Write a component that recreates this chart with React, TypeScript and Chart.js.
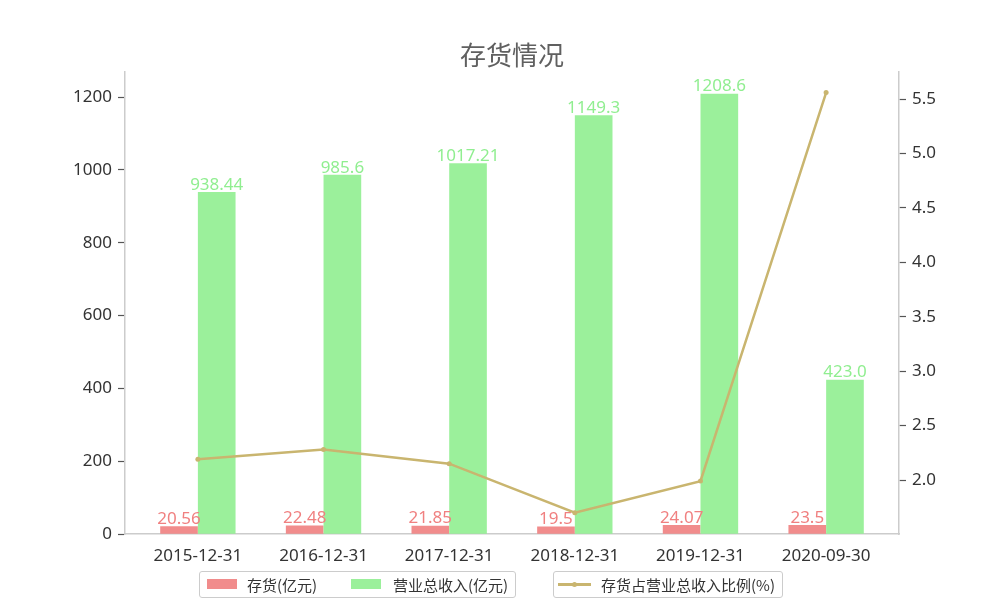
import React, { useEffect, useRef } from 'react';
import { Chart, registerables } from 'chart.js';

Chart.register(...registerables);

const categories = ['2015-12-31', '2016-12-31', '2017-12-31', '2018-12-31', '2019-12-31', '2020-09-30'];
const inventory = [20.56, 22.48, 21.85, 19.5, 24.07, 23.5];
const revenue = [938.44, 985.6, 1017.21, 1149.3, 1208.6, 423.0];
const inventoryRatio = [2.19, 2.28, 2.15, 1.7, 1.99, 5.56];
const inventoryLabels = ['20.56', '22.48', '21.85', '19.5', '24.07', '23.5'];
const revenueLabels = ['938.44', '985.6', '1017.21', '1149.3', '1208.6', '423.0'];
const leftTicks = [0, 200, 400, 600, 800, 1000, 1200];
const rightTicks = [2.0, 2.5, 3.0, 3.5, 4.0, 4.5, 5.0, 5.5];

const FONT = '"Noto Sans", "Noto Sans CJK SC", sans-serif';
const CJK = '"Noto Sans CJK SC", "Noto Sans", sans-serif';
const RED = 'rgba(240, 128, 128, 0.9)';
const GREEN = 'rgba(144, 238, 144, 0.9)';
const LINE = '#C9B56F';

// draws the title and the value labels above the bars
const labelPlugin = {
    id: 'labels',
    afterDatasetsDraw(chart: any) {
        const { ctx, chartArea } = chart;
        ctx.save();
        ctx.font = '26px ' + CJK;
        ctx.fillStyle = '#606060';
        ctx.textAlign = 'center';
        ctx.textBaseline = 'middle';
        ctx.fillText('存货情况', (chartArea.left + chartArea.right) / 2, 55);

        ctx.font = '17px ' + FONT;
        ctx.textBaseline = 'bottom';
        const sets = [
            { idx: 0, labels: inventoryLabels, color: '#F08080' },
            { idx: 1, labels: revenueLabels, color: '#90EE90' },
        ];
        sets.forEach(s => {
            const meta = chart.getDatasetMeta(s.idx);
            ctx.fillStyle = s.color;
            meta.data.forEach((el: any, i: number) => {
                ctx.fillText(s.labels[i], el.x, el.y + 1);
            });
        });
        ctx.restore();
    },
};

function InventoryChart() {
    const chartRef = useRef<HTMLCanvasElement | null>(null);
    const chartInstance = useRef<Chart | null>(null);

    useEffect(() => {
        if (!chartRef.current) return;
        if (chartInstance.current) chartInstance.current.destroy();
        const ctx = chartRef.current.getContext('2d');
        if (!ctx) return;

        chartInstance.current = new Chart(ctx, {
            type: 'bar',
            data: {
                datasets: [
                    {
                        label: '存货(亿元)',
                        data: inventory.map((v, i) => ({ x: i - 0.15, y: v })),
                        backgroundColor: RED,
                        barThickness: 37,
                        grouped: false,
                        yAxisID: 'y',
                        order: 2,
                    },
                    {
                        label: '营业总收入(亿元)',
                        data: revenue.map((v, i) => ({ x: i + 0.15, y: v })),
                        backgroundColor: GREEN,
                        barThickness: 37,
                        grouped: false,
                        yAxisID: 'y',
                        order: 1,
                    },
                    {
                        type: 'line',
                        label: '存货占营业总收入比例(%)',
                        data: inventoryRatio.map((v, i) => ({ x: i, y: v })),
                        borderColor: LINE,
                        backgroundColor: LINE,
                        borderWidth: 2.5,
                        pointRadius: 2.5,
                        pointBorderWidth: 0,
                        yAxisID: 'y1',
                        order: 0,
                    } as any,
                ],
            },
            options: {
                animation: false,
                responsive: true,
                maintainAspectRatio: false,
                layout: { padding: { top: 72, left: 0, right: 0, bottom: 0 } },
                plugins: { legend: { display: false }, tooltip: { enabled: false } },
                scales: {
                    x: {
                        type: 'linear',
                        min: -0.58,
                        max: 5.58,
                        offset: false,
                        afterBuildTicks: (scale: any) => {
                            scale.ticks = categories.map((_, i) => ({ value: i }));
                        },
                        afterFit: (scale: any) => { scale.height = 66; },
                        grid: { display: false },
                        border: { display: true, color: '#cccccc', width: 1.5 },
                        ticks: {
                            callback: (v: any) => categories[Math.round(Number(v))] ?? '',
                            font: { family: FONT, size: 17 },
                            color: '#333333',
                            padding: 4,
                            maxRotation: 0,
                            autoSkip: false,
                        },
                    },
                    y: {
                        position: 'left',
                        min: 0,
                        max: 1269,
                        afterBuildTicks: (scale: any) => {
                            scale.ticks = leftTicks.map(v => ({ value: v }));
                        },
                        afterFit: (scale: any) => { scale.width = 125; },
                        grid: { drawOnChartArea: false, drawTicks: true, tickLength: 7, tickColor: '#555555', tickWidth: 1.2 },
                        border: { display: true, color: '#cccccc', width: 1.5 },
                        ticks: {
                            font: { family: FONT, size: 17 },
                            color: '#333333',
                            padding: 6,
                            callback: (v: any) => String(v),
                        },
                    },
                    y1: {
                        position: 'right',
                        min: 1.504,
                        max: 5.749,
                        afterBuildTicks: (scale: any) => {
                            scale.ticks = rightTicks.map(v => ({ value: v }));
                        },
                        afterFit: (scale: any) => { scale.width = 101; },
                        grid: { drawOnChartArea: false, drawTicks: true, tickLength: 7, tickColor: '#555555', tickWidth: 1.2 },
                        border: { display: true, color: '#cccccc', width: 1.5 },
                        ticks: {
                            font: { family: FONT, size: 17 },
                            color: '#333333',
                            padding: 6,
                            callback: (v: any) => Number(v).toFixed(1),
                        },
                    },
                },
            } as any,
            plugins: [labelPlugin],
        });

        return () => {
            if (chartInstance.current) {
                chartInstance.current.destroy();
                chartInstance.current = null;
            }
        };
    }, []);

    return <canvas ref={chartRef} />;
}

const legendBox: React.CSSProperties = {
    position: 'absolute',
    top: 571,
    height: 27,
    boxSizing: 'border-box',
    border: '1px solid #cccccc',
    borderRadius: 3,
    background: '#ffffff',
};

const legendText: React.CSSProperties = {
    position: 'absolute',
    top: 0,
    lineHeight: '25px',
    fontSize: 15,
    fontFamily: CJK,
    color: '#333333',
    whiteSpace: 'nowrap',
};

export default function App() {
    return (
        <div style={{ position: 'absolute', left: 0, top: 0, width: 1000, height: 600, background: '#fff' }}>
            <InventoryChart />
            <div style={{ ...legendBox, left: 199, width: 317 }}>
                <div style={{ position: 'absolute', left: 7, top: 7, width: 30, height: 10, background: RED }} />
                <div style={{ ...legendText, left: 47 }}>存货(亿元)</div>
                <div style={{ position: 'absolute', left: 151, top: 7, width: 30, height: 10, background: GREEN }} />
                <div style={{ ...legendText, left: 193 }}>营业总收入(亿元)</div>
            </div>
            <div style={{ ...legendBox, left: 553, width: 230 }}>
                <div style={{ position: 'absolute', left: 4, top: 11, width: 33, height: 2.5, background: LINE }} />
                <div style={{ position: 'absolute', left: 18, top: 9.5, width: 5, height: 5, borderRadius: '50%', background: LINE }} />
                <div style={{ ...legendText, left: 47 }}>存货占营业总收入比例(%)</div>
            </div>
        </div>
    );
}
